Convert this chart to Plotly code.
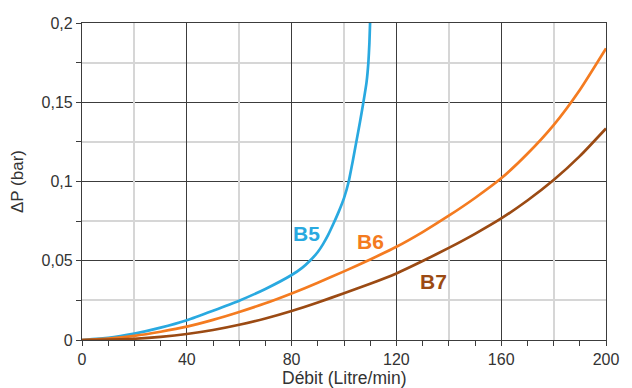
import plotly.graph_objects as go

# Data
b5_x = [0, 10, 20, 30, 40, 50, 60, 70, 80, 84, 87, 90, 92, 94, 96, 98, 100, 101.8, 103.3, 104.7, 106.1, 107.4, 108.6, 109.3, 109.7, 109.95]
b5_y = [0, 0.0013, 0.0040, 0.0078, 0.0125, 0.0185, 0.0248, 0.0322, 0.041, 0.0455, 0.050, 0.0555, 0.0605, 0.0665, 0.0735, 0.081, 0.0895, 0.100, 0.1125, 0.125, 0.1375, 0.150, 0.1625, 0.175, 0.1875, 0.200]

b6_x = [0, 10, 20, 30, 40, 50, 60, 70, 80, 90, 100, 110, 120, 130, 140, 150, 160, 170, 180, 190, 200]
b6_y = [0, 0.0009, 0.0026, 0.0052, 0.0084, 0.0127, 0.0177, 0.0232, 0.0294, 0.0361, 0.0433, 0.0508, 0.0588, 0.0681, 0.0784, 0.0896, 0.1020, 0.1175, 0.1356, 0.1578, 0.184]

b7_x = [0, 10, 20, 30, 40, 50, 60, 70, 80, 90, 100, 110, 120, 130, 140, 150, 160, 170, 180, 190, 200]
b7_y = [0, 0.0002, 0.0008, 0.0020, 0.0038, 0.0063, 0.0096, 0.0136, 0.0183, 0.0237, 0.0295, 0.0355, 0.0420, 0.0498, 0.0581, 0.0670, 0.0767, 0.0880, 0.1009, 0.1160, 0.1335]

series_names = ["B5", "B6", "B7"]
series_colors = ["#29A9E0", "#F47B20", "#9B4A13"]
# label anchor positions (data units)
label_x = [85.7, 110.1, 134.2]
label_y = [0.0675, 0.0624, 0.0372]

x_range = [0, 200]
y_range = [0, 0.2]
x_title = "Débit (Litre/min)"
y_title = "ΔP (bar)"

FONT = "Liberation Sans, Arial, sans-serif"
DARK = "#3c3c3c"
LIGHT = "#d6d6d6"

fig = go.Figure()
for xs, ys, name, col in zip([b5_x, b6_x, b7_x], [b5_y, b6_y, b7_y], series_names, series_colors):
    fig.add_trace(go.Scatter(x=xs, y=ys, mode="lines", name=name,
                             line=dict(color=col, width=2.7, shape="spline",
                                       smoothing=0.4 if name == "B5" else 0.5),
                             showlegend=False, hoverinfo="skip"))

# helper trace on secondary x axis to draw light grid at every 20
fig.add_trace(go.Scatter(x=[], y=[], xaxis="x2", yaxis="y", showlegend=False, hoverinfo="skip"))

for name, col, lx, ly in zip(series_names, series_colors, label_x, label_y):
    fig.add_annotation(x=lx, y=ly, text="<b>%s</b>" % name, showarrow=False,
                       font=dict(family=FONT, size=21, color=col),
                       xanchor="center", yanchor="middle")

# x axis title placed below tick labels
fig.add_annotation(x=0.5, y=0, xref="paper", yref="paper", text=x_title, showarrow=False,
                   xanchor="center", yanchor="middle", yshift=-38,
                   font=dict(family=FONT, size=17.5, color="#333333"))

# the page adds an 8px body margin, so the figure is 8px smaller than the window
fig.update_layout(
    width=624, height=380,
    margin=dict(l=74, r=26, t=15, b=48),
    paper_bgcolor="white", plot_bgcolor="white",
    separators=", ",
    font=dict(family=FONT, size=16, color="#333333"),
    xaxis=dict(range=x_range, dtick=40, tick0=0, showgrid=True, gridcolor=DARK, gridwidth=1,
               showline=True, linecolor=DARK, linewidth=1.2, mirror=True,
               ticks="outside", ticklen=5, tickcolor=DARK, zeroline=False, automargin=False,
               tickfont=dict(size=16),
               minor=dict(dtick=10, ticks="outside", ticklen=5, tickcolor=DARK, showgrid=False)),
    xaxis2=dict(range=x_range, overlaying="x", anchor="y", dtick=40, tick0=20,
                showgrid=True, gridcolor=LIGHT, gridwidth=1.5, showticklabels=False,
                ticks="", showline=False, zeroline=False, automargin=False),
    yaxis=dict(range=y_range, dtick=0.05, tick0=0, showgrid=True, gridcolor=DARK, gridwidth=1,
               showline=True, linecolor=DARK, linewidth=1.2, mirror=True,
               ticks="outside", ticklen=5, tickcolor=DARK, zeroline=False, automargin=False,
               tickfont=dict(size=16),
               minor=dict(dtick=0.025, ticks="outside", ticklen=5, tickcolor=DARK,
                          showgrid=True, gridcolor=LIGHT, gridwidth=1.5),
               title=dict(text=y_title, font=dict(size=17))),
)

fig.write_html("out.html")
